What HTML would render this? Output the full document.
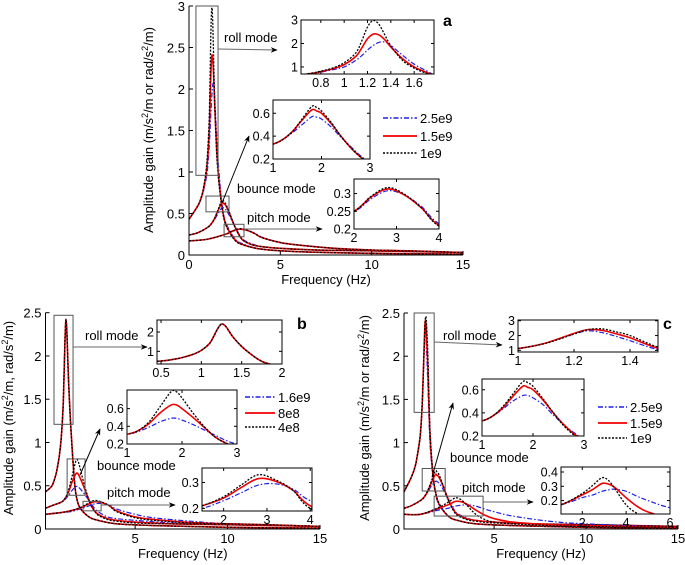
<!DOCTYPE html>
<html><head><meta charset="utf-8">
<style>
html,body{margin:0;padding:0;background:#fff}
svg{display:block;font-family:"Liberation Sans",Arial,sans-serif}
</style></head>
<body>
<svg id="fig" width="685" height="565" viewBox="0 0 685 565" xmlns="http://www.w3.org/2000/svg">
<defs>
<marker id="ah" viewBox="0 0 10 10" refX="9" refY="5" markerWidth="7" markerHeight="7" orient="auto-start-reverse"><path d="M0,1 L10,5 L0,9 L3,5 z" fill="#000"/></marker>
</defs>
</svg>
<script>
// ---------- DATA ----------
// Panel a
const aRollF=[0,0.5,0.7,0.8,0.9,1.0,1.1,1.15,1.2,1.25,1.3,1.35,1.4,1.5,1.6,1.7,1.8,2,2.5,3,4,6,10,15];
const aRollBlue=[0.43,0.6,0.7,0.78,0.88,1.0,1.28,1.48,1.72,1.92,2.05,2.06,1.92,1.5,1.12,0.85,0.62,0.4,0.2,0.13,0.07,0.04,0.02,0.01];
const aRollRed=[0.43,0.6,0.71,0.8,0.92,1.1,1.45,1.8,2.2,2.4,2.36,2.15,1.85,1.35,1.0,0.78,0.6,0.38,0.19,0.12,0.07,0.04,0.02,0.01];
const aRollBlack=[0.43,0.6,0.72,0.82,0.95,1.18,1.6,2.1,2.7,2.98,2.8,2.35,1.9,1.28,0.95,0.74,0.58,0.37,0.18,0.12,0.07,0.04,0.02,0.01];
const aBncF=[0,0.5,1,1.2,1.4,1.6,1.8,1.9,2.0,2.2,2.4,2.6,2.8,3,3.5,4,5,7,10,15];
const aBncBlue=[0.24,0.27,0.33,0.37,0.43,0.5,0.57,0.565,0.55,0.48,0.39,0.31,0.23,0.18,0.13,0.1,0.08,0.06,0.05,0.03];
const aBncRed=[0.24,0.27,0.33,0.37,0.44,0.54,0.63,0.62,0.6,0.51,0.4,0.3,0.22,0.17,0.12,0.1,0.08,0.06,0.05,0.03];
const aBncBlack=[0.24,0.27,0.33,0.37,0.44,0.55,0.66,0.65,0.62,0.52,0.4,0.3,0.22,0.17,0.12,0.1,0.08,0.06,0.05,0.03];
const aPchF=[0,1,2,2.4,2.8,3.2,3.6,4,5,6,8,10,12,15];
const aPchBlue=[0.17,0.19,0.248,0.285,0.308,0.295,0.262,0.215,0.15,0.12,0.08,0.06,0.05,0.03];
const aPchRed=[0.17,0.19,0.25,0.29,0.313,0.295,0.258,0.21,0.15,0.12,0.08,0.06,0.05,0.03];
const aPchBlack=[0.17,0.19,0.25,0.292,0.317,0.297,0.258,0.208,0.15,0.12,0.08,0.06,0.05,0.03];
// Panel b
const bRollF=[0.15,0.5,0.7,0.8,0.9,1.0,1.1,1.15,1.2,1.25,1.3,1.35,1.4,1.5,1.6,1.7,1.8,2,2.5,3,4,6,10,15];
const bRollBlue=[0.43,0.5,0.62,0.72,0.85,1.05,1.4,1.75,2.15,2.4,2.3,2.0,1.7,1.25,0.9,0.6,0.4,0.25,0.14,0.1,0.06,0.04,0.02,0.01];
const bRollRed=[0.43,0.5,0.62,0.72,0.85,1.05,1.4,1.75,2.15,2.41,2.3,2.0,1.7,1.25,0.9,0.6,0.4,0.25,0.14,0.1,0.06,0.04,0.02,0.01];
const bRollBlack=[0.43,0.5,0.62,0.72,0.85,1.05,1.4,1.75,2.15,2.42,2.3,2.0,1.7,1.25,0.9,0.6,0.4,0.25,0.14,0.1,0.06,0.04,0.02,0.01];
const bBncF=[0.15,0.5,1,1.2,1.4,1.6,1.8,1.9,2.0,2.2,2.4,2.6,2.8,3,3.5,4,5,7,10,15];
const bBncBlue=[0.24,0.27,0.31,0.34,0.39,0.45,0.49,0.49,0.47,0.42,0.36,0.3,0.24,0.2,0.14,0.12,0.1,0.07,0.05,0.03];
const bBncRed=[0.24,0.27,0.31,0.35,0.43,0.55,0.64,0.64,0.6,0.5,0.39,0.28,0.21,0.17,0.12,0.1,0.08,0.06,0.05,0.03];
const bBncBlack=[0.24,0.27,0.31,0.35,0.45,0.62,0.79,0.79,0.72,0.55,0.4,0.28,0.21,0.16,0.11,0.09,0.07,0.06,0.05,0.03];
const bPchF=[0.15,1,1.5,2,2.4,2.8,3.2,3.6,4,5,6,8,10,12,15];
const bPchBlue=[0.17,0.19,0.2,0.23,0.26,0.29,0.295,0.275,0.23,0.17,0.13,0.09,0.06,0.05,0.03];
const bPchRed=[0.17,0.19,0.21,0.24,0.28,0.315,0.305,0.27,0.21,0.14,0.11,0.075,0.06,0.05,0.03];
const bPchBlack=[0.17,0.19,0.21,0.245,0.29,0.33,0.31,0.27,0.2,0.13,0.1,0.07,0.06,0.05,0.03];
// Panel c
const cRollF=[0.1,0.5,0.7,0.8,0.9,1.0,1.1,1.2,1.25,1.3,1.35,1.4,1.5,1.6,1.7,1.8,2,2.5,3,4,6,10,15];
const cRollBlue=[0.43,0.6,0.72,0.82,0.95,1.12,1.5,2.1,2.32,2.2,1.95,1.65,1.05,0.75,0.55,0.42,0.28,0.15,0.1,0.06,0.04,0.02,0.01];
const cRollRed=[0.43,0.6,0.72,0.82,0.95,1.12,1.5,2.15,2.4,2.35,2.12,1.85,1.15,0.8,0.58,0.44,0.29,0.15,0.1,0.06,0.04,0.02,0.01];
const cRollBlack=[0.43,0.6,0.72,0.82,0.95,1.12,1.48,2.1,2.4,2.45,2.25,2.0,1.22,0.84,0.6,0.45,0.3,0.15,0.1,0.06,0.04,0.02,0.01];
const cBncF=[0.1,0.5,1,1.2,1.4,1.6,1.8,1.9,2.0,2.2,2.4,2.6,2.8,3,3.5,4,5,7,10,15];
const cBncBlue=[0.24,0.27,0.33,0.37,0.43,0.5,0.55,0.55,0.53,0.47,0.38,0.3,0.23,0.18,0.13,0.1,0.08,0.06,0.05,0.03];
const cBncRed=[0.24,0.27,0.33,0.37,0.44,0.54,0.63,0.62,0.6,0.51,0.4,0.3,0.22,0.17,0.12,0.1,0.08,0.06,0.05,0.03];
const cBncBlack=[0.24,0.27,0.33,0.37,0.45,0.56,0.67,0.66,0.63,0.52,0.4,0.29,0.21,0.16,0.11,0.09,0.07,0.06,0.05,0.03];
const cPchF=[0.1,1,2,2.5,2.9,3.2,3.5,4,4.5,5,6,8,10,15];
const cPchBlue=[0.17,0.17,0.22,0.24,0.265,0.275,0.28,0.265,0.23,0.2,0.15,0.09,0.06,0.02];
const cPchRed=[0.17,0.17,0.24,0.28,0.32,0.315,0.29,0.22,0.16,0.12,0.08,0.05,0.04,0.02];
const cPchBlack=[0.17,0.17,0.25,0.31,0.36,0.34,0.28,0.17,0.11,0.08,0.06,0.04,0.03,0.02];
// Tick labels
const aMainXTicks=[0,5,10,15], aMainYTicks=[0,0.5,1,1.5,2,2.5,3];
const bcMainXTicks=[5,10,15], bcMainYTicks=[0,0.5,1,1.5,2,2.5];
const aLegend=['2.5e9','1.5e9','1e9'], bLegend=['1.6e9','8e8','4e8'], cLegend=['2.5e9','1.5e9','1e9'];

// ---------- DRAW ----------
const NS='http://www.w3.org/2000/svg';
const svg=document.getElementById('fig');
let clipId=0;
function mk(tag,attrs,parent){const e=document.createElementNS(NS,tag);for(const k in attrs)e.setAttribute(k,attrs[k]);(parent||svg).appendChild(e);return e;}
const STY=[{stroke:'#1f1fe6',w:1.2,dash:'5,2,1.5,2'},{stroke:'#f00000',w:1.6,dash:''},{stroke:'#000',w:1.3,dash:'2,1.5'}];
const STYN=['blue','red','black'];
function pathD(pts){
  let d='M'+pts[0][0].toFixed(2)+','+pts[0][1].toFixed(2);
  for(let i=0;i<pts.length-1;i++){
    const p0=pts[Math.max(0,i-1)],p1=pts[i],p2=pts[i+1],p3=pts[Math.min(pts.length-1,i+2)];
    const c1=[p1[0]+(p2[0]-p0[0])/6,p1[1]+(p2[1]-p0[1])/6];
    const c2=[p2[0]-(p3[0]-p1[0])/6,p2[1]-(p3[1]-p1[1])/6];
    d+=' C'+c1[0].toFixed(2)+','+c1[1].toFixed(2)+' '+c2[0].toFixed(2)+','+c2[1].toFixed(2)+' '+p2[0].toFixed(2)+','+p2[1].toFixed(2);
  }
  return d;
}
function axes(cfg){
  const {x0,x1,y0,y1,xd,yd}=cfg;
  const sx=v=>x0+(v-xd[0])/(xd[1]-xd[0])*(x1-x0);
  const sy=v=>y0-(v-yd[0])/(yd[1]-yd[0])*(y0-y1);
  return {sx,sy};
}
function drawSeries(g,ax,F,series,name,clip){
  series.forEach((ys,k)=>{
    const pts=F.map((f,i)=>[ax.sx(f),ax.sy(ys[i])]);
    const p=mk('path',{d:pathD(pts),fill:'none',stroke:STY[k].stroke,'stroke-width':STY[k].w,'stroke-dasharray':STY[k].dash,'clip-path':'url(#'+clip+')'},g);
    
    
  });
}
function makeClip(x,y,w,h){const id='c'+(clipId++);const cp=mk('clipPath',{id},svg.querySelector('defs'));mk('rect',{x,y,width:w,height:h},cp);return id;}
function txt(g,x,y,s,opts){const t=mk('text',Object.assign({x,y,'font-size':13,fill:'#000'},opts||{}),g);t.textContent=s;return t;}

function inset(pg,cfg,modes,name){
  const g=mk('g',{},pg);
  
  
  const ax=axes(cfg);
  mk('rect',{x:cfg.x0,y:cfg.y1,width:cfg.x1-cfg.x0,height:cfg.y0-cfg.y1,fill:'#fff',stroke:'none'},g);
  const clip=makeClip(cfg.x0,cfg.y1,cfg.x1-cfg.x0,cfg.y0-cfg.y1);
  drawSeries(g,ax,modes.F,modes.S,name,clip);
  mk('rect',{x:cfg.x0,y:cfg.y1,width:cfg.x1-cfg.x0,height:cfg.y0-cfg.y1,fill:'none',stroke:'#000','stroke-width':1},g);
  cfg.xt.forEach(v=>{const x=ax.sx(v);mk('line',{x1:x,y1:cfg.y0,x2:x,y2:cfg.y0-3,stroke:'#000'},g);mk('line',{x1:x,y1:cfg.y1,x2:x,y2:cfg.y1+3,stroke:'#000'},g);
    const t=txt(g,x,cfg.y0+13,String(v),{'text-anchor':'middle','font-size':12.5});});
  cfg.yt.forEach(v=>{const y=ax.sy(v);mk('line',{x1:cfg.x0,y1:y,x2:cfg.x0+3,y2:y,stroke:'#000'},g);mk('line',{x1:cfg.x1,y1:y,x2:cfg.x1-3,y2:y,stroke:'#000'},g);
    const t=txt(g,cfg.x0-3,y+4.5,String(v),{'text-anchor':'end','font-size':12.5});});
}

function panel(P){
  const g=mk('g',{});
  
  
  const m=P.main, ax=axes(m);
  const clip=makeClip(m.x0,m.y1-2,m.x1-m.x0+2,m.y0-m.y1+2);
  [['roll',P.roll],['bounce',P.bnc],['pitch',P.pch]].forEach(([n,d])=>drawSeries(g,ax,d.F,d.S,'main-'+P.id+'-'+n,clip));
  // axes lines
  const al=mk('path',{d:`M${m.x0},${m.y1} L${m.x0},${m.y0} L${m.x1},${m.y0}`,fill:'none',stroke:'#000','stroke-width':1},g);
  
  m.xt.forEach(v=>{const x=ax.sx(v);mk('line',{x1:x,y1:m.y0,x2:x,y2:m.y0-4,stroke:'#000'},g);
    const t=txt(g,x,m.y0+14,String(v),{'text-anchor':'middle'});});
  m.yt.forEach(v=>{const y=ax.sy(v);mk('line',{x1:m.x0,y1:y,x2:m.x0+4,y2:y,stroke:'#000'},g);
    const t=txt(g,m.x0-4,y+5,String(v),{'text-anchor':'end'});});
  const xl=txt(g,(m.x0+m.x1)/2,m.y0+29,'Frequency (Hz)',{'text-anchor':'middle'});
  
  const yl=mk('text',{x:0,y:0,'font-size':13,'text-anchor':'middle',transform:`translate(${P.ylx},${P.yly}) rotate(-90)`},g);
  
  P.ylab.forEach(part=>{const ts=mk('tspan',part[1]?{'baseline-shift':'super','font-size':9}:{},yl);ts.textContent=part[0];});
  // rectangles in data coords
  P.rects.forEach((r,i)=>{const e=mk('rect',{x:ax.sx(r[0]),y:ax.sy(r[3]),width:ax.sx(r[1])-ax.sx(r[0]),height:ax.sy(r[2])-ax.sy(r[3]),fill:'none',stroke:'#555','stroke-width':1},g);
    });
  P.arrows.forEach((a,i)=>{const e=mk('line',{x1:a[0],y1:a[1],x2:a[2],y2:a[3],stroke:i==1?'#000':'#666','stroke-width':1,'marker-end':'url(#ah)'},g);
    });
  P.labels.forEach((l,i)=>{const t=txt(g,l[0],l[1],l[2],{'font-size':13});});
  P.insets.forEach((c,i)=>inset(g,c,[P.roll,P.bnc,P.pch][i],P.id+'-'+['roll','bounce','pitch'][i]+'-inset'));
  // legend
  const lg=mk('g',{},g);
  P.legendNames.forEach((n,k)=>{const y=P.leg.y[k];
    mk('line',{x1:P.leg.x,y1:y,x2:P.leg.x+P.leg.w,y2:y,stroke:STY[k].stroke,'stroke-width':STY[k].w+0.2,'stroke-dasharray':STY[k].dash},lg);
    const t=txt(lg,P.leg.x+P.leg.w+3,y+5,n);});
  const pl=txt(g,P.tag[0],P.tag[1],P.id,{'font-size':16,'font-weight':'bold'});
  
}

panel({id:'a',
  main:{x0:189,x1:463,y0:255,y1:6,xd:[0,15],yd:[0,3],xt:aMainXTicks,yt:aMainYTicks},
  roll:{F:aRollF,S:[aRollBlue,aRollRed,aRollBlack]},bnc:{F:aBncF,S:[aBncBlue,aBncRed,aBncBlack]},pch:{F:aPchF,S:[aPchBlue,aPchRed,aPchBlack]},
  ylx:153,yly:130,ylab:[['Amplitude gain (m/s'],['2',1],['/m or rad/s'],['2',1],['/m)']],
  rects:[[0.38,1.59,0.96,3],[0.93,2.19,0.52,0.71],[1.92,3.01,0.22,0.37]],
  arrows:[[218,49,277,50],[222,203,249,136],[244,229,322,229]],
  labels:[[224,42,'roll mode'],[237,193,'bounce mode'],[247,222,'pitch mode']],
  insets:[{x0:301,x1:434,y0:74,y1:20,xd:[0.63,1.77],yd:[0.7,3.0],xt:[0.8,1,1.2,1.4,1.6],yt:[1,2,3]},
          {x0:273,x1:370,y0:159,y1:100,xd:[1,3],yd:[0.2,0.716],xt:[1,2,3],yt:[0.2,0.4,0.6]},
          {x0:354,x1:439,y0:229,y1:179,xd:[2,4],yd:[0.2,0.341],xt:[2,3,4],yt:[0.2,0.25,0.3]}],
  leg:{x:383,w:34,y:[118,136,153]},legendNames:aLegend,tag:[443,26]});

panel({id:'b',
  main:{x0:45.5,x1:320,y0:529,y1:312.7,xd:[0.15,15],yd:[0,2.5],xt:bcMainXTicks,yt:bcMainYTicks},
  roll:{F:bRollF,S:[bRollBlue,bRollRed,bRollBlack]},bnc:{F:bBncF,S:[bBncBlue,bBncRed,bBncBlack]},pch:{F:bPchF,S:[bPchBlue,bPchRed,bPchBlack]},
  ylx:13,yly:418,ylab:[['Amplitude gain (m/s'],['2',1],['/m, rad/s'],['2',1],['/m)']],
  rects:[[0.61,1.64,1.21,2.47],[1.32,2.29,0.39,0.81],[2.18,3.16,0.21,0.32]],
  arrows:[[73,347,147,347],[80,475,100,429],[101,505,175,505]],
  labels:[[85,340,'roll mode'],[97,470,'bounce mode'],[107,497,'pitch mode']],
  insets:[{x0:157,x1:282,y0:364,y1:320,xd:[0.45,2],yd:[0.345,2.62],xt:[0.5,1,1.5,2],yt:[1,2]},
          {x0:127,x1:237,y0:444,y1:390,xd:[1,3],yd:[0.2,0.81],xt:[1,2,3],yt:[0.2,0.4,0.6]},
          {x0:202,x1:312,y0:511,y1:468,xd:[1.5,4.04],yd:[0.19,0.356],xt:[2,3,4],yt:[0.2,0.3]}],
  leg:{x:245,w:30,y:[397,413,427]},legendNames:bLegend,tag:[297,329]});

panel({id:'c',
  main:{x0:404,x1:678,y0:529,y1:313,xd:[0.1,15],yd:[0,2.5],xt:bcMainXTicks,yt:bcMainYTicks},
  roll:{F:cRollF,S:[cRollBlue,cRollRed,cRollBlack]},bnc:{F:cBncF,S:[cBncBlue,cBncRed,cBncBlack]},pch:{F:cPchF,S:[cPchBlue,cPchRed,cPchBlack]},
  ylx:369,yly:418,ylab:[['Amplitude gain (m/s'],['2',1],['/m or rad/s'],['2',1],['/m)']],
  rects:[[0.65,1.74,1.35,2.5],[1.09,2.34,0.44,0.7],[1.74,4.4,0.15,0.38]],
  arrows:[[434,342,502,345],[432,477,453,403],[483,502,533,502]],
  labels:[[443,340,'roll mode'],[450,462,'bounce mode'],[462,492,'pitch mode']],
  insets:[{x0:518,x1:658,y0:352,y1:320,xd:[1,1.5],yd:[0.89,3.05],xt:[1,1.2,1.4],yt:[1,2,3]},
          {x0:482,x1:584,y0:436,y1:379,xd:[1,3],yd:[0.2,0.693],xt:[1,2,3],yt:[0.2,0.4,0.6]},
          {x0:561,x1:670,y0:514,y1:467,xd:[1.03,6],yd:[0.106,0.435],xt:[2,4,6],yt:[0.2,0.3,0.4]}],
  leg:{x:598,w:29,y:[407,423,438]},legendNames:cLegend,tag:[663,329]});
</script>
</body></html>
